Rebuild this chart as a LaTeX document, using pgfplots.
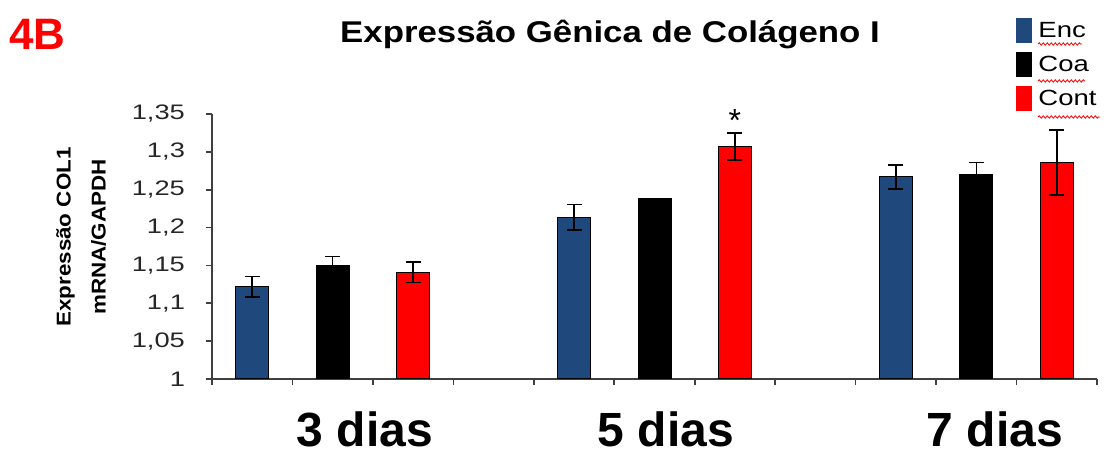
\documentclass[border=0pt]{standalone}
\usepackage{fontspec}
\setmainfont{Liberation Sans}
\usepackage{graphicx}
\usepackage{pgfplots}
\pgfplotsset{compat=1.18}
\usetikzlibrary{decorations.pathmorphing}
\definecolor{encblue}{HTML}{1F497D}
\definecolor{contred}{HTML}{FF0000}
\definecolor{axgray}{HTML}{404040}
\pgfplotstableread{
x y e
0 1.122 0.0135
4 1.2135 0.017
8 1.267 0.016
}\enc
\pgfplotstableread{
x y e
1 1.150 0.012
5 1.238 0
9 1.270 0.016
}\coa
\pgfplotstableread{
x y e
2 1.141 0.0135
6 1.307 0.0175
10 1.286 0.043
}\cont
\begin{document}
\begin{tikzpicture}
\path[use as bounding box] (0,0) rectangle (552pt,229pt);
\begin{axis}[
  at={(106pt,39.5pt)}, anchor=south west,
  scale only axis, width=442.5pt, height=132.5pt,
  xmin=-0.5, xmax=10.5, ymin=1, ymax=1.35,
  axis lines*=left,
  axis line style={axgray, line width=0.8pt},
  xtick={-0.5,0.5,...,10.5}, xticklabels={},
  ytick={1,1.05,1.1,1.15,1.2,1.25,1.3,1.35},
  tick align=outside, major tick length=3pt,
  tick style={axgray, line width=0.8pt},
  yticklabel={\scalebox{1.3}[1]{\pgfmathprintnumber[use comma, assume math mode=true]{\tick}}},
  yticklabel style={font=\fontsize{10.5}{11}\selectfont, text=black!85, xshift=-7pt},
  ybar, bar width=16.5pt, bar shift=0pt,
  clip=false,
  legend style={at={(0.9085,1.362)}, anchor=north west, draw=none, fill=none,
    inner sep=0pt, row sep=4.5pt, font=\fontsize{11}{12}\selectfont,
    nodes={inner sep=0pt, anchor=west},
    /tikz/every odd column/.append style={column sep=3pt}},
  legend cell align=left,
  legend image code/.code={\fill[#1, draw=none] (0pt,-6.25pt) rectangle (8pt,6.25pt);},
  error bars/y dir=both, error bars/y explicit,
  error bars/error bar style={black, line width=0.8pt},
  error bars/error mark options={rotate=90, black, mark size=3.75pt, line width=0.8pt},
]
\addplot[fill=encblue, draw=black, line width=0.5pt] table[x=x, y=y, y error=e]{\enc};
\addlegendentry{\scalebox{1.25}[1]{Enc}}
\addplot[fill=black, draw=black, line width=0.5pt] table[x=x, y=y, y error=e]{\coa};
\addlegendentry{\scalebox{1.25}[1]{Coa}}
\addplot[fill=contred, draw=black, line width=0.5pt] table[x=x, y=y, y error=e]{\cont};
\addlegendentry{\scalebox{1.25}[1]{Cont}}
\node[anchor=base, inner sep=0pt, font=\fontsize{16}{16}\selectfont] at (axis cs:6,1.327) {*};
\end{axis}
% titles and labels
\node[anchor=base west, inner sep=0pt, text=red, font=\fontsize{22}{22}\selectfont\bfseries] at (4.5pt,204pt) {4B};
\node[anchor=base, inner sep=0pt, font=\fontsize{15}{15}\selectfont\bfseries] at (305pt,207.5pt) {\scalebox{1.16}[1]{Expressão Gênica de Colágeno I}};
\node[rotate=90, align=center, inner sep=0pt, font=\fontsize{10}{17.5}\selectfont\bfseries] at (40.5pt,110.5pt) {\scalebox{1.12}[1]{Expressão COL1}\\\scalebox{1.12}[1]{mRNA/GAPDH}};
\node[anchor=base, inner sep=0pt, font=\fontsize{24}{24}\selectfont\bfseries] at (182.5pt,5.5pt) {3 dias};
\node[anchor=base, inner sep=0pt, font=\fontsize{24}{24}\selectfont\bfseries] at (333pt,5.5pt) {5 dias};
\node[anchor=base, inner sep=0pt, font=\fontsize{24}{24}\selectfont\bfseries] at (497.5pt,5.5pt) {7 dias};
% spell-check underlines of legend text
\draw[red, line width=0.4pt, decorate, decoration={snake, amplitude=0.6pt, segment length=2pt}] (519pt,207pt) -- (541pt,207pt);
\draw[red, line width=0.4pt, decorate, decoration={snake, amplitude=0.6pt, segment length=2pt}] (519pt,188.5pt) -- (542.5pt,188.5pt);
\draw[red, line width=0.4pt, decorate, decoration={snake, amplitude=0.6pt, segment length=2pt}] (519pt,170.5pt) -- (550pt,170.5pt);
\end{tikzpicture}
\end{document}
